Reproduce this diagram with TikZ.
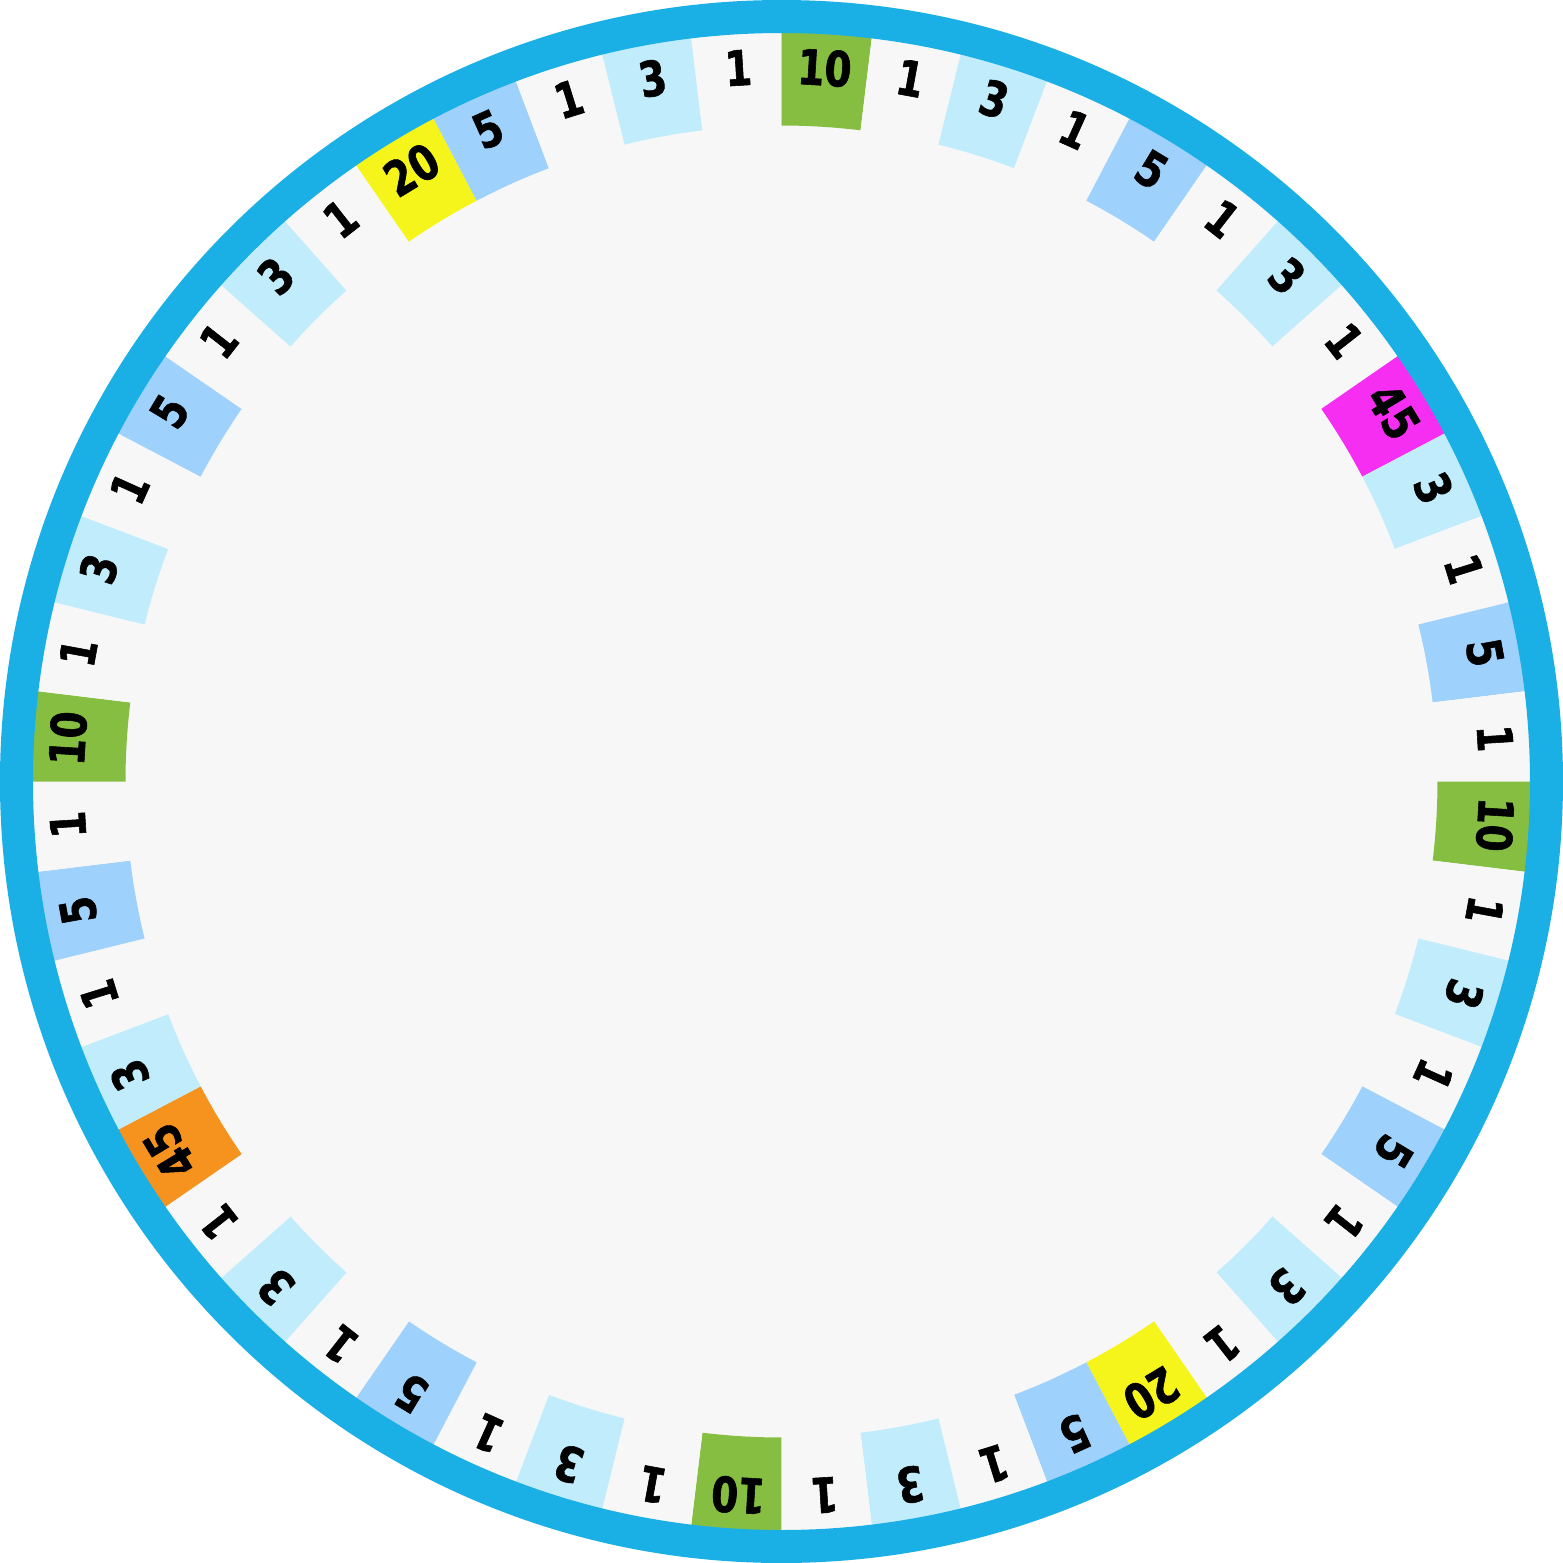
\documentclass[tikz,border=0pt]{standalone}
\usepackage{fontspec}
\newfontfamily\wheelfont[FakeStretch=0.8,FakeBold=1.2]{DejaVu Sans}
\definecolor{ringblue}{HTML}{1AB0E6}
\definecolor{wgreen}{HTML}{86BE42}
\definecolor{wlight}{HTML}{C1ECFC}
\definecolor{wblue}{HTML}{9ED1FB}
\definecolor{wyellow}{HTML}{F5F51C}
\definecolor{wmagenta}{HTML}{F52EF2}
\definecolor{worange}{HTML}{F6921E}
\definecolor{wwhite}{HTML}{F7F7F7}
\tikzset{
  numlabel/.style={font=\wheelfont\bfseries\fontsize{13.8pt}{14pt}\selectfont, text=black, inner sep=0pt, anchor=center},
  ring/.style={draw=ringblue, line width=0.33cm}
}
\begin{document}
\begin{tikzpicture}
\useasboundingbox[fill=white] (-7.815,-7.815) rectangle (7.815,7.815);
\fill[wwhite] (0,0) circle (7.5);
\foreach \v/\c [count=\i from 0] in {10/wgreen,1/wwhite,3/wlight,1/wwhite,5/wblue,1/wwhite,3/wlight,1/wwhite,45/wmagenta,3/wlight,1/wwhite,5/wblue,1/wwhite,
10/wgreen,1/wwhite,3/wlight,1/wwhite,5/wblue,1/wwhite,3/wlight,1/wwhite,20/wyellow,5/wblue,1/wwhite,3/wlight,1/wwhite,
10/wgreen,1/wwhite,3/wlight,1/wwhite,5/wblue,1/wwhite,3/wlight,1/wwhite,45/worange,3/wlight,1/wwhite,5/wblue,1/wwhite,
10/wgreen,1/wwhite,3/wlight,1/wwhite,5/wblue,1/wwhite,3/wlight,1/wwhite,20/wyellow,5/wblue,1/wwhite,3/wlight,1/wwhite}{
  \pgfmathsetmacro{\sa}{90-\i*6.9230769}
  \pgfmathsetmacro{\ea}{\sa-6.9230769}
  \pgfmathsetmacro{\ma}{\sa-3.4615385}
  \pgfmathsetmacro{\ra}{\ma-90}
  \fill[fill=\c] (\sa:6.56) arc[start angle=\sa, end angle=\ea, radius=6.56] -- (\ea:7.52) arc[start angle=\ea, end angle=\sa, radius=7.52] -- cycle;
  \node[numlabel, rotate=\ra] (lab\i) at (\ma:7.15) {\v};
}
\draw[ring] (0,0) circle (7.65);
\end{tikzpicture}
\end{document}
